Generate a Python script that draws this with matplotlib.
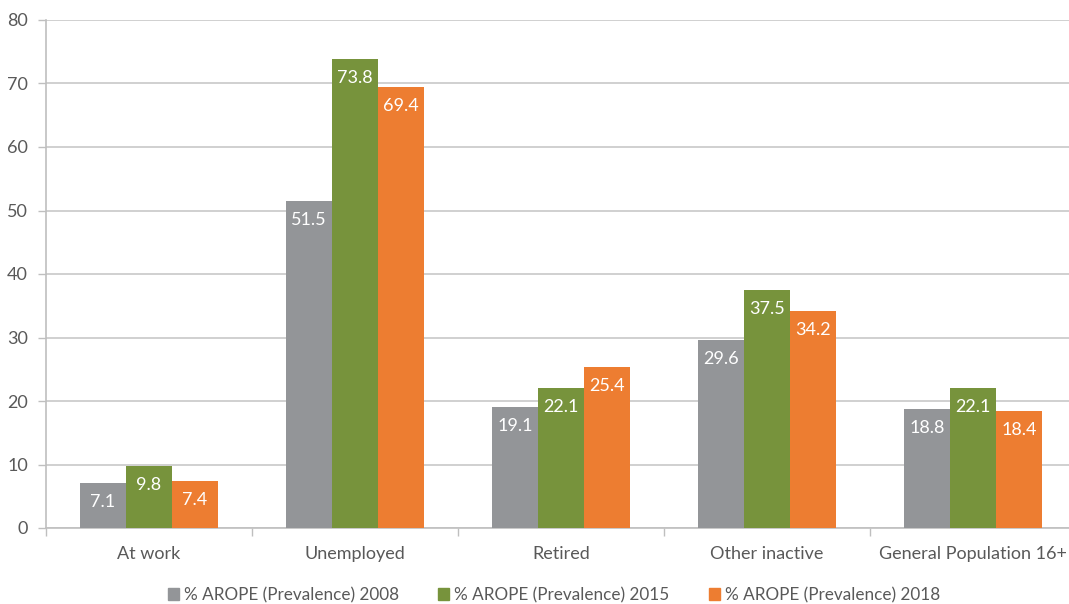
import numpy as np
import matplotlib
matplotlib.use('Agg')
import matplotlib.pyplot as plt
from matplotlib.patches import Patch

categories = ['At work', 'Unemployed', 'Retired', 'Other inactive', 'General Population 16+']
series_names = ['% AROPE (Prevalence) 2008', '% AROPE (Prevalence) 2015', '% AROPE (Prevalence) 2018']
v2008 = [7.1, 51.5, 19.1, 29.6, 18.8]
v2015 = [9.8, 73.8, 22.1, 37.5, 22.1]
v2018 = [7.4, 69.4, 25.4, 34.2, 18.4]
colors = ['#939598', '#77933C', '#ED7D31']

plt.rcParams['font.family'] = ['Lato', 'DejaVu Sans']
txt_grey = '#595959'

fig = plt.figure(figsize=(10.69, 6.04), dpi=100)
# plot area runs slightly past the right edge of the canvas
ax = fig.add_axes([46 / 1069, 76 / 604, 1030 / 1069, 508 / 604])

x = np.arange(len(categories))
w = 0.223
for k, vals in enumerate([v2008, v2015, v2018]):
    pos = x + (k - 1) * w
    ax.bar(pos, vals, width=w, color=colors[k], zorder=3)
    for px, v in zip(pos, vals):
        ax.annotate(f'{v:.1f}', (px, v), xytext=(0, -8), textcoords='offset points',
                    ha='center', va='top', color='white', fontsize=13, zorder=4)

ax.set_xlim(-0.5, len(categories) - 0.5)
ax.set_ylim(0, 80)
ax.set_yticks(range(0, 81, 10))
ax.yaxis.grid(True, color='#C8C8C8', linewidth=1.2, zorder=0)

ax.set_xticks(x)
ax.set_xticklabels(categories)
ax.set_xticks(np.arange(-0.5, len(categories), 1.0), minor=True)
ax.tick_params(axis='x', which='major', length=0, pad=13, labelsize=13, labelcolor=txt_grey)
ax.tick_params(axis='x', which='minor', length=6, color='#BFBFBF', width=1)
ax.tick_params(axis='y', length=6, color='#BFBFBF', width=1, labelsize=13, labelcolor=txt_grey, pad=7)

for s in ['top', 'right']:
    ax.spines[s].set_visible(False)
ax.spines['left'].set_color('#BFBFBF')
ax.spines['bottom'].set_color('#BFBFBF')
ax.spines['left'].set_linewidth(1.2)
ax.spines['bottom'].set_linewidth(1.2)

handles = [Patch(color=c, label=n) for c, n in zip(colors, series_names)]
fig.legend(handles=handles, loc='center', bbox_to_anchor=(554 / 1069, 1 - 595 / 604), ncol=3,
           frameon=False, fontsize=12.3, handlelength=0.65, handleheight=0.65, handletextpad=0.3,
           columnspacing=2.3, labelcolor=txt_grey)

fig.savefig('out.png', dpi=100)
